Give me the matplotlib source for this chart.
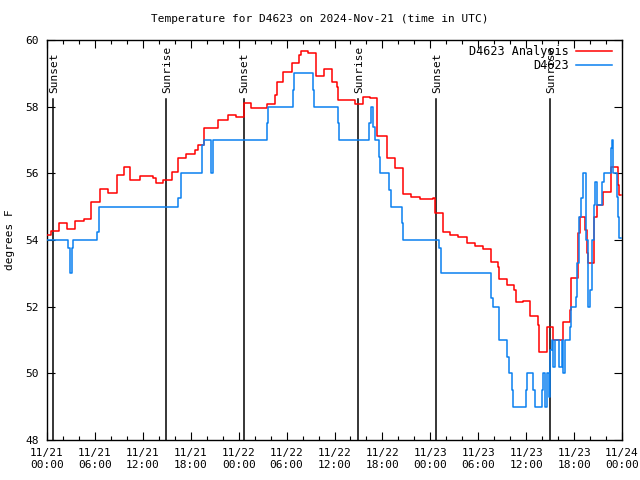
import matplotlib
matplotlib.use("Agg")
import matplotlib.pyplot as plt
import numpy as np

# hours since 2024-11-21 00:00 UTC
analysis_t = [0.0, 0.46, 1.54, 2.47, 3.54, 4.63, 5.47, 6.64, 7.64, 8.77, 9.64, 10.39,
              11.65, 13.27, 13.65, 14.53, 15.65, 16.40, 17.41, 18.53, 18.91, 19.66,
              21.41, 22.66, 23.67, 24.61, 25.55, 27.55, 28.55, 28.74, 29.51, 30.64,
              31.59, 31.77, 32.72, 33.68, 34.69, 35.65, 36.28, 36.48, 38.57, 39.61,
              40.45, 41.28, 42.54, 43.58, 44.62, 45.54, 46.71, 48.37, 48.59, 49.55,
              50.46, 51.47, 52.55, 53.59, 54.63, 55.56, 56.51, 56.64, 57.56, 58.52,
              58.69, 59.57, 60.48, 61.45, 61.65, 62.57, 63.40, 64.58, 65.43, 65.62,
              66.46, 66.74, 67.37, 67.58, 67.80, 68.50, 68.83, 69.66, 70.59, 71.54,
              71.67, 71.85]
analysis_v = [54.14, 54.26, 54.50, 54.33, 54.56, 54.64, 55.15, 55.52, 55.42, 55.95, 56.18, 55.80,
              55.92, 55.85, 55.70, 55.80, 56.04, 56.45, 56.58, 56.70, 56.85, 57.35,
              57.60, 57.75, 57.68, 58.10, 57.95, 58.08, 58.35, 58.75, 59.05, 59.30,
              59.55, 59.68, 59.62, 58.92, 59.12, 58.75, 58.58, 58.20, 58.08, 58.30,
              58.25, 57.12, 56.45, 56.15, 55.37, 55.30, 55.22, 55.25, 54.80, 54.25,
              54.15, 54.08, 53.92, 53.82, 53.72, 53.35, 53.20, 52.82, 52.65, 52.50,
              52.15, 52.17, 51.72, 51.45, 50.63, 51.38, 51.00, 51.55, 51.90, 52.85,
              54.20, 54.70, 54.30, 53.60, 53.30, 54.70, 55.05, 55.45, 56.20, 55.65,
              55.35, 55.35]

obs_t = [0.0, 2.63, 2.88, 3.13, 3.26, 6.26, 6.45, 16.44, 16.72, 19.45, 19.60, 20.50,
         20.75, 27.51, 27.71, 30.84, 30.97, 33.27, 33.43, 36.40, 36.56, 40.38, 40.57,
         40.88, 41.13, 41.57, 41.76, 42.86, 43.08, 44.41, 44.61, 49.12, 49.34, 55.60,
         55.89, 56.54, 57.64, 57.91, 58.23, 58.39, 59.94, 60.14, 60.89, 61.11, 61.95,
         62.15, 62.36, 62.65, 62.86, 62.99, 63.20, 63.32, 63.61, 64.11, 64.45, 64.58,
         64.86, 65.49, 65.62, 66.24, 66.40, 66.66, 66.83, 67.16, 67.46, 67.71, 68.00,
         68.21, 68.50, 68.62, 68.91, 69.46, 69.75, 70.59, 70.71, 70.91, 71.34, 71.54,
         71.67, 71.85]
obs_v = [54.0, 53.76, 53.0, 53.76, 54.0, 54.25, 55.0, 55.25, 56.0, 56.85, 57.0, 56.0,
         57.0, 57.5, 58.0, 58.5, 59.0, 58.5, 58.0, 57.5, 57.0, 57.5, 58.0,
         57.4, 57.0, 56.5, 56.0, 55.5, 55.0, 54.5, 54.0, 53.75, 53.0, 52.25,
         52.0, 51.0, 50.5, 50.0, 49.5, 49.0, 49.5, 50.0, 49.5, 49.0, 49.5,
         50.0, 49.0, 50.0, 49.3, 50.7, 51.0, 50.2, 51.0, 50.2, 51.0, 50.0,
         51.0, 51.4, 52.0, 52.3, 53.3, 54.7, 55.25, 56.0, 54.0, 52.0, 52.5,
         54.0, 55.05, 55.75, 55.05, 55.75, 56.0, 56.75, 57.0, 56.0, 55.3, 54.7,
         54.05, 54.05]

sun_t = [0.79, 14.94, 24.67, 38.98, 48.75, 63.02]
sun_lbl = ["Sunset", "Sunrise", "Sunset", "Sunrise", "Sunset", "Sunrise"]

xtick_hours = list(range(0, 73, 6))
xtick_labels = ["11/21\n00:00", "11/21\n06:00", "11/21\n12:00", "11/21\n18:00",
                "11/22\n00:00", "11/22\n06:00", "11/22\n12:00", "11/22\n18:00",
                "11/23\n00:00", "11/23\n06:00", "11/23\n12:00", "11/23\n18:00",
                "11/24\n00:00"]
ytick_vals = [48, 50, 52, 54, 56, 58, 60]

plt.rcParams['font.family'] = ['DejaVu Sans Mono', 'DejaVu Sans']
plt.rcParams['font.size'] = 8

fig = plt.figure(figsize=(6.4, 4.8), dpi=100)
ax = fig.add_axes([47/640, 1-440/480, 575/640, 400/480])

ax.plot(analysis_t, analysis_v, color='#ff0000', lw=1.1, drawstyle='steps-post',
        label='D4623 Analysis', zorder=3)
ax.plot(obs_t, obs_v, color='#0a80f0', lw=1.1, drawstyle='steps-post',
        label='D4623', zorder=3)

for t, lbl in zip(sun_t, sun_lbl):
    ax.plot([t, t], [48, 58.23], color='black', lw=1.1, zorder=2)
    ax.text(t + 0.08, 58.42, lbl, rotation=90, ha='center', va='bottom', fontsize=8)

ax.set_xlim(0, 72)
ax.set_ylim(48, 60)
ax.set_xticks(xtick_hours)
ax.set_xticklabels(xtick_labels)
ax.set_xticks(np.arange(0, 73, 2), minor=True)
ax.set_yticks(ytick_vals)
ax.tick_params(axis='both', which='both', direction='in', top=True, right=True)
ax.tick_params(axis='both', which='major', length=6, width=0.8)
ax.tick_params(axis='x', which='minor', length=3, width=0.8)
ax.tick_params(axis='x', which='major', pad=6)
ax.tick_params(axis='y', which='major', pad=6)
for s in ax.spines.values():
    s.set_linewidth(1.0)

ax.set_ylabel('degrees F', labelpad=7)
fig.text(0.5, 1-19/480, 'Temperature for D4623 on 2024-Nov-21 (time in UTC)',
         ha='center', va='center', fontsize=8)

leg = ax.legend(loc='upper right', frameon=False, markerfirst=False, handlelength=3.0,
                borderaxespad=0.0, labelspacing=0.1, handletextpad=0.6, fontsize=8.5,
                bbox_to_anchor=(0.99, 1.0))
for txt in leg.get_texts():
    txt.set_ha('right')

fig.savefig('out.png', dpi=100)
